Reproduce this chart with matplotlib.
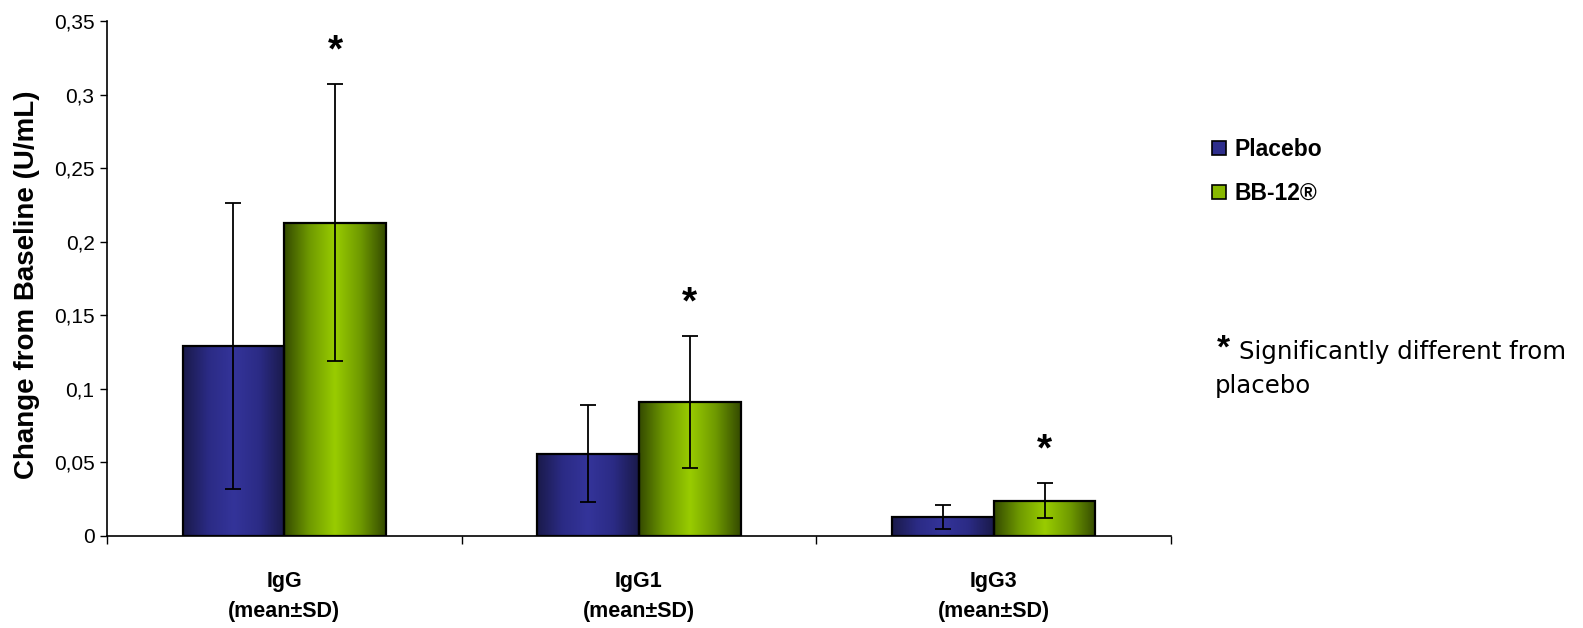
import numpy as np
import matplotlib
matplotlib.use("Agg")
import matplotlib.pyplot as plt
from matplotlib.colors import LinearSegmentedColormap
from matplotlib.patches import Patch

# Data
categories = ["IgG\n(mean±SD)", "IgG1\n(mean±SD)", "IgG3\n(mean±SD)"]
placebo_mean = [0.129, 0.056, 0.013]
placebo_sd = [0.097, 0.033, 0.008]
bb12_mean = [0.213, 0.091, 0.024]
bb12_sd = [0.094, 0.045, 0.012]
significant = [True, True, True]
series_names = ["Placebo", "BB-12®"]
y_ticks = [0, 0.05, 0.1, 0.15, 0.2, 0.25, 0.3, 0.35]
y_tick_labels = ["0", "0,05", "0,1", "0,15", "0,2", "0,25", "0,3", "0,35"]

ARIAL = "Liberation Sans"

fig = plt.figure(figsize=(15.83, 6.28), dpi=100)
ax = fig.add_axes([0.0676, 0.1465, 0.6721, 0.8200])

x = np.arange(len(categories))
width = 0.287

# shading: dark edges, bright centre
blue_cmap = LinearSegmentedColormap.from_list(
    "blue_shade", ["#1a1a4a", "#2b2b85", "#34349a", "#2b2b85", "#1a1a4a"])
green_cmap = LinearSegmentedColormap.from_list(
    "green_shade", ["#344a00", "#6f9a00", "#99cc00", "#6f9a00", "#344a00"])
grad = np.linspace(0, 1, 256).reshape(1, -1)


def shaded_bars(xpos, heights, errs, cmap):
    bars = ax.bar(xpos, heights, width, facecolor="none", edgecolor="black",
                  linewidth=1.6, zorder=3)
    for b in bars:
        x0, y0 = b.get_x(), b.get_y()
        im = ax.imshow(grad, cmap=cmap, aspect="auto",
                       extent=(x0, x0 + b.get_width(), y0, y0 + b.get_height()),
                       zorder=2, interpolation="bilinear")
        im.set_clip_path(b)
    ax.errorbar(xpos, heights, yerr=errs, fmt="none", ecolor="black",
                elinewidth=1.3, capsize=5.5, capthick=1.3, zorder=4)
    return bars


shaded_bars(x - width / 2, placebo_mean, placebo_sd, blue_cmap)
shaded_bars(x + width / 2, bb12_mean, bb12_sd, green_cmap)

# significance markers above the BB-12 bars
for xi, m, s, sig in zip(x, bb12_mean, bb12_sd, significant):
    if sig:
        ax.text(xi + width / 2, m + s + 0.0155, "*", ha="center", va="baseline",
                fontsize=28, fontweight="bold", family=ARIAL)

ax.set_xlim(-0.5, len(categories) - 0.5)
ax.set_ylim(0, 0.35)
ax.set_yticks(y_ticks)
ax.set_yticklabels(y_tick_labels, family=ARIAL, fontsize=15)
ax.tick_params(axis="y", direction="out", length=5, width=1, pad=4)

ax.set_xticks(x)
ax.set_xticklabels(categories, family=ARIAL, fontsize=15.5, fontweight="bold",
                   linespacing=1.55)
ax.tick_params(axis="x", length=0, pad=25)
ax.set_xticks(np.arange(len(categories) + 1) - 0.5, minor=True)
ax.tick_params(axis="x", which="minor", direction="out", length=6, width=1)

for side in ("top", "right"):
    ax.spines[side].set_visible(False)
for side in ("left", "bottom"):
    ax.spines[side].set_linewidth(1.2)

ax.set_ylabel("Change from Baseline (U/mL)", family=ARIAL, fontsize=20,
              fontweight="bold")
ax.yaxis.set_label_coords(-0.0628, 0.488)

handles = [Patch(facecolor="#2e2e8c", edgecolor="black", linewidth=1.2),
           Patch(facecolor="#88b800", edgecolor="black", linewidth=1.2)]
fig.legend(handles, series_names, loc="upper left",
           bbox_to_anchor=(0.7655, 0.780), frameon=False,
           prop={"family": ARIAL, "weight": "bold", "size": 16.5},
           handlelength=0.6, handleheight=0.6, handletextpad=0.4,
           labelspacing=0.92, borderaxespad=0, borderpad=0)

# footnote
fig.text(0.769, 0.430, "*", family=ARIAL, fontweight="bold", fontsize=24,
         va="baseline", ha="left")
fig.text(0.783, 0.429, "Significantly different from", family="DejaVu Sans",
         fontsize=17.6, va="baseline", ha="left")
fig.text(0.7675, 0.374, "placebo", family="DejaVu Sans", fontsize=17.6,
         va="baseline", ha="left")

fig.savefig("out.png", dpi=100)
